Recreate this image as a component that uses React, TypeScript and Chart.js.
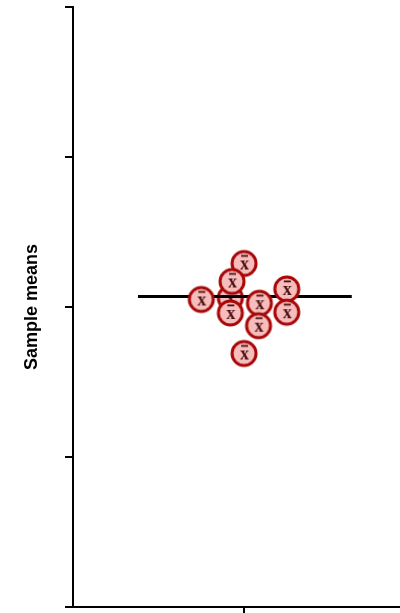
import React, { useEffect, useRef } from "react";
import { Chart, registerables } from "chart.js";

Chart.register(...registerables);

// Sample means (x = jittered position around group 1, y = value)
const meanX = [1.0, 0.93, 0.75, 0.92, 1.09, 1.085, 1.25, 1.25, 1.0];
const meanY = [2.29, 2.17, 2.05, 1.96, 2.025, 1.875, 2.12, 1.965, 1.69];
// one mean partly hidden behind the others
const hiddenX = [0.92];
const hiddenY = [2.06];
// overall mean line
const lineX = [0.38, 1.63];
const lineY = [2.07, 2.07];
const yTicks = [0, 1, 2, 3, 4];
const xTicks = [1];
const yTitle = "Sample means";

function makeMarker(): HTMLCanvasElement {
  const c = document.createElement("canvas");
  c.width = 32;
  c.height = 32;
  const g = c.getContext("2d")!;
  g.beginPath();
  g.arc(16, 16, 12, 0, Math.PI * 2);
  g.fillStyle = "#f7bcbc";
  g.fill();
  g.lineWidth = 3;
  g.strokeStyle = "#a80808";
  g.stroke();
  g.fillStyle = "#4a1010";
  g.font = "bold 18px 'Liberation Serif', serif";
  g.textAlign = "center";
  g.textBaseline = "alphabetic";
  g.fillText("x", 16.5, 21.5);
  g.fillRect(13, 7.5, 7, 1.8);
  return c;
}

export default function App() {
  const ref = useRef<HTMLCanvasElement | null>(null);
  useEffect(() => {
    document.body.style.margin = "0";
    const marker = makeMarker();
    const chart = new Chart(ref.current!, {
      type: "scatter",
      data: {
        datasets: [
          {
            data: meanX.map((x, i) => ({ x, y: meanY[i] })),
            pointStyle: marker as any,
            pointRadius: 13,
            order: 0,
          },
          {
            type: "line",
            data: lineX.map((x, i) => ({ x, y: lineY[i] })),
            borderColor: "#000",
            borderWidth: 3,
            pointRadius: 0,
            order: 1,
          } as any,
          {
            data: hiddenX.map((x, i) => ({ x, y: hiddenY[i] })),
            pointStyle: marker as any,
            pointRadius: 13,
            order: 2,
          },
        ],
      },
      options: {
        responsive: false,
        animation: false,
        layout: { autoPadding: false, padding: { top: 7, left: 0, right: 0, bottom: 0 } },
        plugins: { legend: { display: false }, tooltip: { enabled: false } },
        scales: {
          x: {
            type: "linear",
            min: 0,
            max: 1.912,
            afterBuildTicks: (s: any) => {
              s.ticks = xTicks.map((v) => ({ value: v }));
            },
            afterFit: (s: any) => {
              s.height = 6;
            },
            ticks: { display: false },
            grid: {
              drawOnChartArea: false,
              drawTicks: true,
              tickLength: 8,
              color: "#000",
              lineWidth: 2,
            },
            border: { display: true, color: "#000", width: 2 },
          },
          y: {
            type: "linear",
            min: yTicks[0],
            max: yTicks[yTicks.length - 1],
            afterBuildTicks: (s: any) => {
              s.ticks = yTicks.map((v) => ({ value: v }));
            },
            afterFit: (s: any) => {
              s.width = 73;
            },
            ticks: { display: false },
            grid: {
              drawOnChartArea: false,
              drawTicks: true,
              tickLength: 8,
              color: "#000",
              lineWidth: 2,
            },
            border: { display: true, color: "#000", width: 2 },
            title: {
              display: true,
              text: yTitle,
              color: "#000",
              font: { family: "'Liberation Sans', Arial, sans-serif", size: 18, weight: "bold" },
              padding: { top: 21, bottom: 0 },
            },
          },
        },
      },
    });
    return () => chart.destroy();
  }, []);
  return <canvas ref={ref} width={400} height={613} style={{ display: "block" }} />;
}
